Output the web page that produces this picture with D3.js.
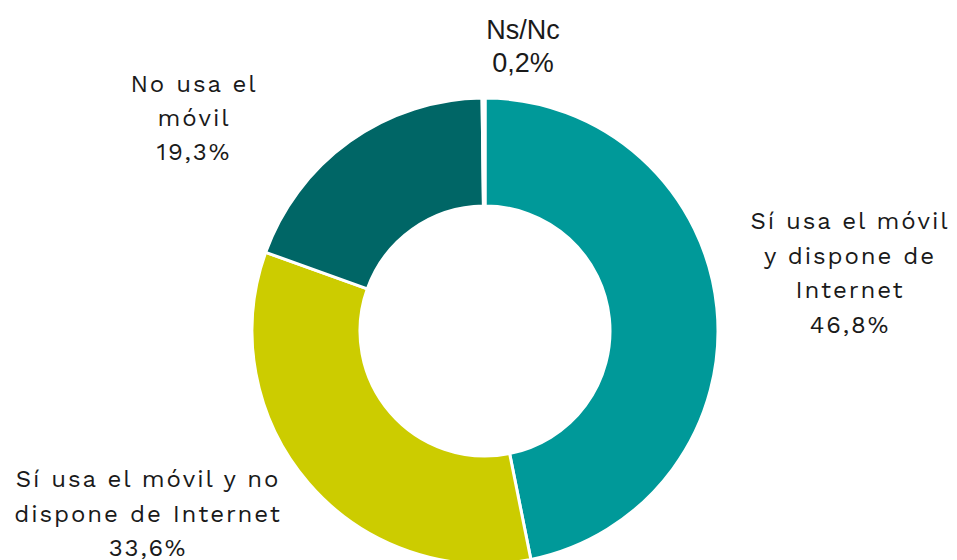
<!DOCTYPE html>
<html>
<head>
<meta charset="utf-8">
<script src="https://cdn.jsdelivr.net/npm/d3@7"></script>
<style>
  html, body { margin: 0; padding: 0; background: #fff; }
  svg { display: block; }
</style>
</head>
<body>
<svg id="chart" width="957" height="560"></svg>
<script>
const categories = [
  "Sí usa el móvil y dispone de Internet",
  "Sí usa el móvil y no dispone de Internet",
  "No usa el móvil",
  "Ns/Nc"
];
const values = [46.8, 33.6, 19.3, 0.2];
const valueLabels = ["46,8%", "33,6%", "19,3%", "0,2%"];
const colors = ["#009999", "#CCCC00", "#006666", "#FFFFFF"];
const labelLines = [
  ["Sí usa el móvil", "y dispone de", "Internet"],
  ["Sí usa el móvil y no", "dispone de Internet"],
  ["No usa el", "móvil"],
  ["Ns/Nc"]
];

const svg = d3.select("#chart");
const cx = 485, cy = 331, outerR = 233, innerR = 125;

const pie = d3.pie().sort(null).value(d => d);
const arcs = pie(values);
const arc = d3.arc().innerRadius(innerR).outerRadius(outerR);

const g = svg.append("g").attr("transform", `translate(${cx},${cy})`);
g.selectAll("path").data(arcs).enter().append("path")
  .attr("d", arc)
  .attr("fill", (d, i) => colors[i])
  .attr("stroke", "#fff")
  .attr("stroke-width", 3);

// label anchor positions (text layout)
const labelPos = [
  {x: 850, y: 229},
  {x: 148, y: 487},
  {x: 194, y: 92},
  {x: 523, y: 39}
];
const lineH = [34.5, 34.5, 34, 33];
const mainFont = "'Work Sans', Inter, 'Open Sans', sans-serif";
const fonts = [mainFont, mainFont, mainFont, "'Liberation Sans', Arial, sans-serif"];
const sizes = [24, 24, 24, 27];
const spacing = [1.9, 1.9, 1.9, 0];

categories.forEach((c, i) => {
  const lines = labelLines[i].concat([valueLabels[i]]);
  const t = svg.append("text")
    .attr("text-anchor", "middle")
    .attr("font-family", fonts[i])
    .attr("font-size", sizes[i])
    .attr("letter-spacing", spacing[i])
    .attr("fill", "#1a1a1a");
  lines.forEach((ln, j) => {
    t.append("tspan")
      .attr("x", labelPos[i].x)
      .attr("y", labelPos[i].y + j * lineH[i])
      .text(ln);
  });
});
</script>
</body>
</html>
